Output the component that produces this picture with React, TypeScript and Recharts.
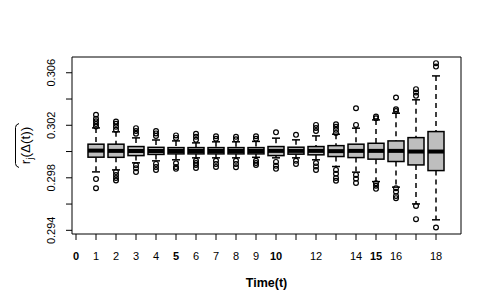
import React from "react";
import { ComposedChart, Bar, Scatter, XAxis, YAxis, ReferenceArea, Label } from "recharts";

const positions = [1, 2, 3, 4, 5, 6, 7, 8, 9, 10, 11, 12, 13, 14, 15, 16, 17, 18];
const whiskerLow = [0.29845, 0.2986, 0.29914, 0.29929, 0.29937, 0.29952, 0.29952, 0.29952, 0.29956, 0.29952, 0.29952, 0.29937, 0.29886, 0.29843, 0.29771, 0.29729, 0.29601, 0.2948];
const q1 = [0.29957, 0.29956, 0.29969, 0.29978, 0.29982, 0.29982, 0.29982, 0.29982, 0.29982, 0.29969, 0.2998, 0.29975, 0.29962, 0.29954, 0.29942, 0.29924, 0.29898, 0.29855];
const median = [0.30007, 0.30005, 0.30004, 0.30004, 0.30004, 0.30004, 0.30004, 0.30004, 0.30004, 0.30005, 0.30005, 0.30005, 0.30003, 0.30005, 0.30005, 0.30005, 0.3, 0.3];
const q3 = [0.30056, 0.30056, 0.30038, 0.30032, 0.3003, 0.3003, 0.3003, 0.3003, 0.3003, 0.30038, 0.30033, 0.30038, 0.30045, 0.30056, 0.30063, 0.30081, 0.30106, 0.30152];
const whiskerHigh = [0.3018, 0.3015, 0.30104, 0.30088, 0.30081, 0.30066, 0.30074, 0.30074, 0.30077, 0.30102, 0.30089, 0.30119, 0.30132, 0.30178, 0.30241, 0.30292, 0.30394, 0.30576];
const outliers = [
  [0.3019, 0.3021, 0.3023, 0.3025, 0.3028, 0.2979, 0.2972],
  [0.30228, 0.30211, 0.30188, 0.30165, 0.29845, 0.29822, 0.29799, 0.2978],
  [0.30178, 0.30157, 0.30135, 0.29895, 0.29872, 0.29845],
  [0.30157, 0.30138, 0.30119, 0.29906, 0.29883, 0.2986],
  [0.30123, 0.30104, 0.2991, 0.29883, 0.29868],
  [0.30135, 0.30112, 0.30089, 0.29929, 0.29913, 0.29898, 0.29875],
  [0.30116, 0.30097, 0.29929, 0.29906, 0.29883],
  [0.30112, 0.30093, 0.29929, 0.29906, 0.2988],
  [0.30116, 0.30097, 0.29929, 0.29913, 0.29898],
  [0.30146, 0.29921, 0.29891, 0.29868],
  [0.30127, 0.29929, 0.29906],
  [0.30203, 0.3018, 0.30157, 0.29913, 0.29887, 0.2986],
  [0.30208, 0.30188, 0.30165, 0.30142, 0.2986, 0.2983, 0.29799, 0.29777],
  [0.3033, 0.30203, 0.29822, 0.29792, 0.29761],
  [0.30266, 0.30254, 0.29759, 0.29739, 0.29716],
  [0.30411, 0.30322, 0.30309, 0.29721, 0.29693, 0.29662, 0.29645],
  [0.30475, 0.30449, 0.30424, 0.29586, 0.29485],
  [0.30673, 0.30647, 0.29421],
];

const xTicks = [0, 1, 2, 3, 4, 5, 6, 7, 8, 9, 10, 11, 12, 13, 14, 15, 16, 17, 18];
const xLabelHidden = [11, 13, 17];
const xLabelBold = [0, 5, 10, 15];
const yTicks = [0.294, 0.296, 0.298, 0.3, 0.302, 0.304, 0.306];
const yLabeled = ["0.294", "0.298", "0.302", "0.306"];
const xDomain = [-0.2, 19.25];
const yDomain = [0.29372, 0.3072];

const FONT = "'Liberation Sans', Arial, Helvetica, sans-serif";

const boxData = positions.map((p, i) => ({
  x: p,
  range: [whiskerLow[i], whiskerHigh[i]],
  lo: whiskerLow[i],
  q1: q1[i],
  med: median[i],
  q3: q3[i],
  hi: whiskerHigh[i],
}));

const outlierData = positions.flatMap((p, i) => outliers[i].map((v) => ({ x: p, y: v })));

const BoxShape = (props: any) => {
  const { x, y, width, height, payload } = props;
  if (x == null || y == null || !payload) return null;
  const { lo, q1: b1, med, q3: b3, hi } = payload;
  const perUnit = height / (hi - lo);
  const yOf = (v: number) => y + (hi - v) * perUnit;
  const cx = x + width / 2;
  const capHalf = width / 4;
  return (
    <g>
      <line x1={cx} x2={cx} y1={yOf(hi)} y2={yOf(b3)} stroke="#000" strokeWidth={1.5} strokeDasharray="5 4" />
      <line x1={cx} x2={cx} y1={yOf(b1)} y2={yOf(lo)} stroke="#000" strokeWidth={1.5} strokeDasharray="5 4" />
      <line x1={cx - capHalf} x2={cx + capHalf} y1={yOf(hi)} y2={yOf(hi)} stroke="#000" strokeWidth={1.5} />
      <line x1={cx - capHalf} x2={cx + capHalf} y1={yOf(lo)} y2={yOf(lo)} stroke="#000" strokeWidth={1.5} />
      <rect x={x} y={yOf(b3)} width={width} height={yOf(b1) - yOf(b3)} fill="#bebebe" stroke="#000" strokeWidth={1.5} />
      <line x1={x} x2={x + width} y1={yOf(med)} y2={yOf(med)} stroke="#000" strokeWidth={4} />
    </g>
  );
};

const OutlierShape = (props: any) => {
  const { cx, cy } = props;
  if (cx == null || cy == null) return null;
  return <circle cx={cx} cy={cy} r={2.4} fill="none" stroke="#000" strokeWidth={1.2} />;
};

const XTick = (props: any) => {
  const { x, y, payload } = props;
  const v = payload.value;
  if (xLabelHidden.includes(v)) return null;
  return (
    <text x={x} y={y + 18} textAnchor="middle" fontSize={11} fontFamily={FONT} fontWeight={xLabelBold.includes(v) ? "bold" : "normal"} fill="#000">
      {v}
    </text>
  );
};

const YTick = (props: any) => {
  const { x, y, payload } = props;
  const s = Number(payload.value).toFixed(3);
  if (!yLabeled.includes(s)) return null;
  return (
    <text transform={`translate(${x - 9},${y}) rotate(-90)`} textAnchor="middle" fontSize={11} fontFamily={FONT} fill="#000">
      {s}
    </text>
  );
};

const XTitle = (props: any) => {
  const vb = props.viewBox || {};
  return (
    <text x={vb.x + vb.width / 2} y={vb.y + 53} textAnchor="middle" fontSize={12.5} fontWeight="bold" fontFamily={FONT} fill="#000">
      Time(t)
    </text>
  );
};

const YTitle = (props: any) => {
  const vb = props.viewBox || {};
  const cy = vb.y + vb.height / 2;
  return (
    <g transform={`translate(30,${cy}) rotate(-90)`}>
      <text x={0} y={0} textAnchor="middle" fontSize={13.5} fontFamily={FONT} fill="#000">
        <tspan>r</tspan>
        <tspan fontSize={9.5} dy={3}>j</tspan>
        <tspan dy={-3}>(Δ(t))</tspan>
      </text>
      <path d="M -22 -11 Q -21 -14.5 -18 -14.5 L 18 -14.5 Q 21 -14.5 22 -11" fill="none" stroke="#000" strokeWidth={1} />
    </g>
  );
};

export default function App() {
  return (
    <div style={{ position: "absolute", left: 0, top: 0, background: "#fff" }}>
      <ComposedChart width={491} height={307} data={boxData} margin={{ top: 57, right: 30, bottom: 0, left: 0 }}>
        <XAxis
          dataKey="x"
          type="number"
          domain={xDomain}
          ticks={xTicks}
          interval={0}
          height={73}
          tickSize={6}
          tickLine={{ stroke: "#000" }}
          axisLine={false}
          tick={<XTick />}
          allowDataOverflow
        >
          <Label content={<XTitle />} />
        </XAxis>
        <YAxis
          type="number"
          domain={yDomain}
          ticks={yTicks}
          interval={0}
          width={72}
          tickSize={6}
          tickLine={{ stroke: "#000" }}
          axisLine={false}
          tick={<YTick />}
          allowDataOverflow
        >
          <Label content={<YTitle />} />
        </YAxis>
        <Bar dataKey="range" barSize={16} shape={<BoxShape />} isAnimationActive={false} />
        <Scatter data={outlierData} dataKey="y" shape={<OutlierShape />} isAnimationActive={false} />
        <ReferenceArea x1={xDomain[0]} x2={xDomain[1]} y1={yDomain[0]} y2={yDomain[1]} fill="none" fillOpacity={0} stroke="#000" strokeWidth={1} ifOverflow="visible" />
      </ComposedChart>
    </div>
  );
}
